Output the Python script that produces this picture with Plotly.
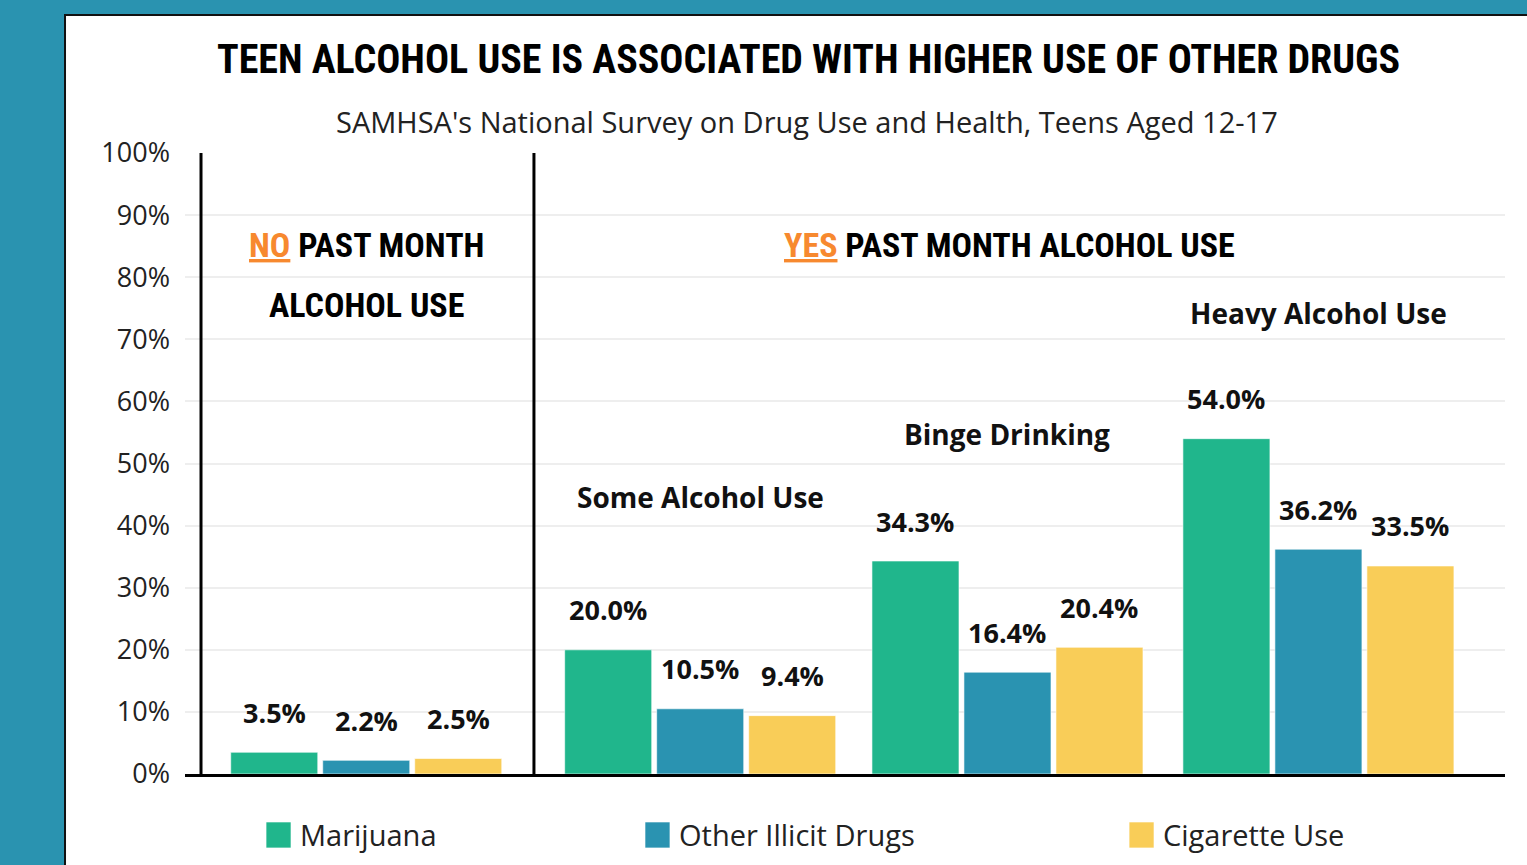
import plotly.graph_objects as go

# --- data -------------------------------------------------------------
groups = ["No Past Month Alcohol Use", "Some Alcohol Use", "Binge Drinking", "Heavy Alcohol Use"]
series_names = ["Marijuana", "Other Illicit Drugs", "Cigarette Use"]
marijuana = [3.5, 20.0, 34.3, 54.0]
other_illicit = [2.2, 10.5, 16.4, 36.2]
cigarette = [2.5, 9.4, 20.4, 33.5]
series_values = [marijuana, other_illicit, cigarette]
y_ticks = list(range(0, 101, 10))

# --- style / layout constants -----------------------------------------
COLORS = ["#20B68C", "#2A93B1", "#F9CD58"]
TEAL = "#2A93B0"
ORANGE = "#F7892F"
HEAD_FONT = "Roboto Condensed, DejaVu Sans Condensed, sans-serif"
BODY_FONT = "Open Sans, Noto Sans, sans-serif"
NARROW = "font-stretch:condensed"


def head_font(size):
    return dict(family=HEAD_FONT, size=size, color="#000", weight=700)


def narrow(text):
    return f"<span style='{NARROW}'>{text}</span>"


# x axis measured in bar slots; group centres and divider positions
GROUP_X = [1.97, 5.60, 8.94, 12.32]
X_RANGE = [0, 14.348]
DIVIDERS = [0.174, 3.793]
BAR_W = 0.946
SLOT = [-1, 0, 1]

fig = go.Figure()

for name, vals, color, k in zip(series_names, series_values, COLORS, SLOT):
    fig.add_trace(go.Bar(
        x=GROUP_X, y=vals, name=name,
        width=BAR_W, offset=k - BAR_W / 2,
        marker=dict(color=color, line=dict(color="rgba(255,255,255,0.6)", width=1)),
        showlegend=False, hoverinfo="skip",
    ))

annotations = []
# value labels above bars
for vals, k in zip(series_values, SLOT):
    for gx, v in zip(GROUP_X, vals):
        annotations.append(dict(
            x=gx + k, y=v, xref="x", yref="y", yshift=40,
            text=f"<b>{v:.1f}%</b>", showarrow=False,
            font=dict(family=BODY_FONT, size=27, color="#111"),
            xanchor="center", yanchor="middle",
        ))

# sub-group captions
GROUP_LABEL_Y = [44.6, 54.7, 74.2]
for gx, label, gy in zip(GROUP_X[1:], groups[1:], GROUP_LABEL_Y):
    annotations.append(dict(
        x=gx, y=gy, xref="x", yref="y", text=f"<b>{label}</b>", showarrow=False,
        font=dict(family=BODY_FONT, size=28, color="#111"),
        xanchor="center", yanchor="middle",
    ))

# section headers (two-line header set as two lines with wide leading)
for txt, hy in [(f"<span style='color:{ORANGE}'><u>NO</u></span> PAST MONTH", 85.2),
                ("ALCOHOL USE", 75.5)]:
    annotations.append(dict(
        x=GROUP_X[0], y=hy, xref="x", yref="y", text=narrow(txt),
        showarrow=False, align="center", font=head_font(34),
        xanchor="center", yanchor="middle",
    ))
annotations.append(dict(
    x=(GROUP_X[1] + GROUP_X[3]) / 2, y=85.2, xref="x", yref="y",
    text=narrow(f"<span style='color:{ORANGE}'><u>YES</u></span> PAST MONTH ALCOHOL USE"),
    showarrow=False, align="center", font=head_font(34),
    xanchor="center", yanchor="middle",
))

# title and subtitle
annotations.append(dict(
    x=0.472, y=1.1498, xref="paper", yref="paper",
    text=narrow("TEEN ALCOHOL USE IS ASSOCIATED WITH HIGHER USE OF OTHER DRUGS"),
    showarrow=False, font=head_font(40),
    xanchor="center", yanchor="middle",
))
annotations.append(dict(
    x=0.471, y=1.050, xref="paper", yref="paper",
    text="SAMHSA's National Survey on Drug Use and Health, Teens Aged 12-17",
    showarrow=False, font=dict(family=BODY_FONT, size=29, color="#222"),
    xanchor="center", yanchor="middle",
))

shapes = [
    # white card behind the chart
    dict(type="rect", xref="paper", yref="paper", x0=-0.0909, x1=1.05, y0=-0.2, y1=1.2222,
         fillcolor="white", line=dict(color="#111", width=2), layer="below"),
]
for dx in DIVIDERS:
    shapes.append(dict(type="line", xref="x", yref="y", x0=dx, x1=dx, y0=0, y1=100,
                       line=dict(color="#000", width=3)))

# legend swatches and names
LEGEND_X = [0.0614, 0.3485, 0.7152]
SW_W = 0.0189
LEG_Y = -0.0982
SW_H = 0.0209
for lx, name, color in zip(LEGEND_X, series_names, COLORS):
    shapes.append(dict(type="rect", xref="paper", yref="paper",
                       x0=lx, x1=lx + SW_W, y0=LEG_Y - SW_H, y1=LEG_Y + SW_H,
                       fillcolor=color, line=dict(color="rgba(255,255,255,0.6)", width=1)))
    annotations.append(dict(
        x=lx + SW_W + 0.005, y=LEG_Y, xref="paper", yref="paper", text=name,
        showarrow=False, font=dict(family=BODY_FONT, size=29, color="#222"),
        xanchor="left", yanchor="middle",
    ))

fig.update_layout(
    width=1527, height=865,
    margin=dict(l=185, r=22, t=153, b=91),
    paper_bgcolor=TEAL, plot_bgcolor="white",
    barmode="overlay",
    xaxis=dict(range=X_RANGE, showticklabels=False, showgrid=False, zeroline=False,
               showline=True, linecolor="#000", linewidth=3, fixedrange=True),
    yaxis=dict(range=[0, 100], tickvals=y_ticks, ticktext=[f"{t}%" for t in y_ticks],
               showgrid=True, gridcolor="#EEEEEE", gridwidth=2, zeroline=False,
               ticks="", ticklabelstandoff=14,
               tickfont=dict(family=BODY_FONT, size=27, color="#222"), fixedrange=True),
    annotations=annotations, shapes=shapes,
    showlegend=False,
)

fig.write_html("out.html")
